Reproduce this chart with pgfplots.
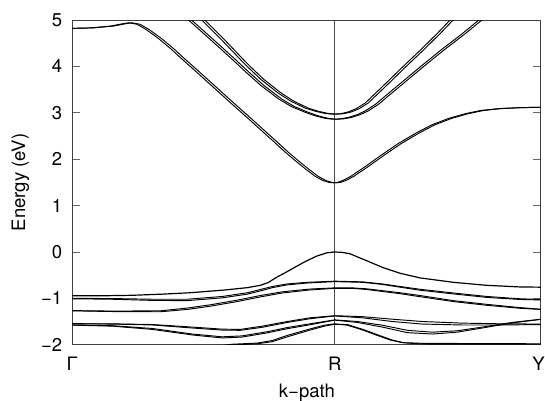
\documentclass[border=0pt]{standalone}
\usepackage{fontspec}
\setmainfont{TeX Gyre Heros}
\usepackage{pgfplots}
\pgfplotsset{compat=1.18}
\begin{document}
\begin{tikzpicture}
\begin{axis}[
  name=ax,
  scale only axis,
  width=468.4bp, height=324.7bp,
  xmin=0, xmax=468.4, ymin=-2, ymax=5,
  axis line style={draw=black!75, line width=0.8pt},
  xtick={0,262.4,468.4},
  xticklabels={Γ,R,\makebox[8bp][r]{Y}},
  x tick style={draw=none},
  ytick={-2,-1,0,1,2,3,4,5},
  yticklabels={−2,−1,0,1,2,3,4,5},
  tick align=inside,
  tick pos=both,
  major tick length=7.7bp,
  y tick style={draw=black!60, line width=0.6pt},
  tick label style={font=\fontsize{18.5bp}{22bp}\selectfont},
  xticklabel style={inner sep=0pt, anchor=north, yshift=-12bp},
  yticklabel style={inner sep=0pt, anchor=east, xshift=-10bp},
  xlabel={k−path},
  ylabel={Energy (eV)},
  label style={font=\fontsize{18.5bp}{22bp}\selectfont},
  xlabel style={at={(axis description cs:0.501,-0.1626)}, anchor=base},
  ylabel style={at={(axis description cs:-0.1106,0.5)}, anchor=center},
  clip=true,
  band/.style={black, line width=0.95pt, line join=round, mark=none, solid},
]
\draw[black!70, line width=0.5pt] (axis cs:262.4,-2) -- (axis cs:262.4,5);
% Conduction band A (pair)
\addplot[band] coordinates {(0,4.82) (18.5,4.83) (38.5,4.87) (50.5,4.92) (56.5,4.94) (64.5,4.91) (73.5,4.80) (86.2,4.60) (98.5,4.38) (108.5,4.18) (119.5,3.97) (138.5,3.60) (158.5,3.21) (176.2,2.87) (188.5,2.63) (202.9,2.35) (213.5,2.14) (226.2,1.91) (235.5,1.75) (242.9,1.63) (250.5,1.54) (256.5,1.50) (260.9,1.49) (265.5,1.50) (271.5,1.55) (278.5,1.63) (292.9,1.84) (308.5,2.08) (326.2,2.34) (343.5,2.56) (359.5,2.74) (376.5,2.88) (392.9,2.98) (408.5,3.05) (426.2,3.09) (446.5,3.11) (468.4,3.12)};
\addplot[band] coordinates {(0,4.82) (21.5,4.83) (41.5,4.87) (53.5,4.92) (59.5,4.94) (67.5,4.91) (76.5,4.80) (89.2,4.60) (101.5,4.38) (111.5,4.18) (122.5,3.97) (141.5,3.60) (161.5,3.21) (179.2,2.87) (191.5,2.63) (205.9,2.35) (216.5,2.14) (229.2,1.91) (238.5,1.75) (245.9,1.63) (253.5,1.54) (259.5,1.50) (263.9,1.49) (268.5,1.50) (274.5,1.55) (281.5,1.63) (295.9,1.84) (311.5,2.08) (329.2,2.34) (346.5,2.56) (362.5,2.74) (379.5,2.88) (395.9,2.98) (411.5,3.05) (429.2,3.09) (449.5,3.11) (468.4,3.12)};
% Conduction band B (pair)
\addplot[band] coordinates {(110.5,5.12) (116.2,5.0) (138.5,4.57) (158.5,4.18) (172.9,3.89) (188.5,3.59) (206.2,3.30) (218.5,3.14) (232.9,3.01) (243.5,2.93) (252.9,2.88) (260.9,2.86) (268.5,2.87) (276.2,2.90) (285,2.96) (292.9,3.04) (303,3.18) (312.9,3.36) (328.5,3.64) (348.5,4.00) (368.5,4.35) (388.5,4.68) (405.5,4.98) (412.5,5.12)};
\addplot[band] coordinates {(113.5,5.12) (119.2,5.0) (141.5,4.57) (161.5,4.18) (175.9,3.89) (191.5,3.59) (209.2,3.30) (221.5,3.14) (235.9,3.01) (246.5,2.93) (255.9,2.88) (263.9,2.86) (271.5,2.87) (279.2,2.90) (288,2.96) (295.9,3.04) (306,3.18) (315.9,3.36) (331.5,3.64) (351.5,4.00) (371.5,4.35) (391.5,4.68) (408.5,4.98) (415.5,5.12)};
% Conduction band C (pair)
\addplot[band] coordinates {(123.5,5.12) (129.5,5.0) (148.5,4.59) (172.9,4.04) (188.5,3.72) (206.2,3.42) (218.5,3.25) (232.9,3.10) (243.5,3.03) (252.9,2.985) (260.9,2.97) (268.5,2.98) (276.2,3.02) (284,3.09) (292.9,3.21) (308.5,3.53) (329.5,3.97) (348.5,4.36) (364.5,4.70) (377.9,5.0) (384.5,5.12)};
\addplot[band] coordinates {(126.5,5.12) (132.5,5.0) (151.5,4.59) (175.9,4.04) (191.5,3.72) (209.2,3.42) (221.5,3.25) (235.9,3.10) (246.5,3.03) (255.9,2.985) (263.9,2.97) (271.5,2.98) (279.2,3.02) (287,3.09) (295.9,3.21) (311.5,3.53) (332.5,3.97) (351.5,4.36) (367.5,4.70) (380.9,5.0) (387.5,5.12)};
% Valence band 1
\addplot[band, line width=1.2pt] coordinates {(0,-0.945) (30,-0.945) (60,-0.935) (90,-0.91) (117.7,-0.88) (152.7,-0.82) (175,-0.77) (188,-0.72) (196,-0.66) (204,-0.55) (212.7,-0.45) (221,-0.35) (232.7,-0.21) (244.4,-0.09) (254.4,-0.02) (262.4,0) (270,-0.01) (277.7,-0.04) (294.4,-0.19) (311,-0.34) (327.7,-0.46) (347.7,-0.56) (381,-0.655) (414.4,-0.72) (447.7,-0.755) (468.4,-0.76)};
% Valence band 2 (pair)
\addplot[band] coordinates {(0,-1.0) (40,-1.005) (80,-1.02) (115,-1.02) (150,-0.96) (175,-0.88) (190,-0.80) (200,-0.745) (215,-0.69) (235,-0.655) (262.4,-0.63) (290,-0.645) (310,-0.69) (327.7,-0.745) (347.7,-0.805) (381,-0.885) (414.4,-0.96) (447.7,-1.01) (468.4,-1.025)};
\addplot[band] coordinates {(0,-1.01) (40,-1.02) (80,-1.045) (115,-1.05) (150,-0.99) (175,-0.91) (190,-0.83) (200,-0.77) (215,-0.71) (235,-0.67) (262.4,-0.64) (290,-0.655) (310,-0.70) (327.7,-0.76) (347.7,-0.825) (381,-0.905) (414.4,-0.98) (447.7,-1.025) (468.4,-1.035)};
% Valence band 3 (pair)
\addplot[band] coordinates {(0,-1.265) (40,-1.275) (88,-1.27) (115,-1.21) (138,-1.14) (165,-1.04) (188,-0.94) (210,-0.86) (237.7,-0.80) (262.4,-0.775) (280,-0.775) (294.4,-0.795) (327.7,-0.88) (347.7,-0.94) (381,-1.05) (414.4,-1.13) (447.7,-1.20) (468.4,-1.235)};
\addplot[band] coordinates {(0,-1.27) (40,-1.285) (88,-1.29) (115,-1.24) (138,-1.17) (165,-1.07) (188,-0.97) (210,-0.885) (237.7,-0.82) (262.4,-0.785) (280,-0.785) (294.4,-0.81) (327.7,-0.90) (347.7,-0.965) (381,-1.07) (414.4,-1.15) (447.7,-1.215) (468.4,-1.24)};
% Lower valence bands
\addplot[band] coordinates {(0,-1.547) (40,-1.55) (80,-1.565) (120,-1.62) (150,-1.665) (168,-1.67) (190,-1.60) (215,-1.50) (237.7,-1.42) (262.4,-1.375) (290,-1.395) (320,-1.45) (350,-1.50) (390,-1.535) (430,-1.55) (468.4,-1.555)};
\addplot[band] coordinates {(0,-1.55) (40,-1.555) (80,-1.575) (120,-1.64) (150,-1.685) (168,-1.69) (190,-1.625) (215,-1.52) (237.7,-1.44) (262.4,-1.38) (290,-1.42) (320,-1.50) (350,-1.555) (390,-1.575) (430,-1.575) (468.4,-1.565)};
\addplot[band] coordinates {(0,-1.575) (40,-1.59) (80,-1.65) (120,-1.77) (150,-1.83) (170,-1.81) (195,-1.72) (215,-1.63) (237.7,-1.55) (262.4,-1.465) (285,-1.50) (310,-1.58) (335,-1.69) (360,-1.73) (385,-1.70) (410,-1.62) (440,-1.52) (468.4,-1.45)};
\addplot[band] coordinates {(0,-1.578) (40,-1.60) (80,-1.67) (120,-1.79) (150,-1.855) (170,-1.835) (195,-1.745) (215,-1.655) (237.7,-1.57) (262.4,-1.47) (285,-1.52) (310,-1.62) (335,-1.74) (360,-1.77) (385,-1.73) (410,-1.64) (440,-1.53) (468.4,-1.455)};
\addplot[band] coordinates {(145,-2.03) (160,-1.99) (185,-1.965) (200,-1.91) (215,-1.80) (237.7,-1.66) (252,-1.58) (262.4,-1.55) (275,-1.58) (290,-1.68) (305,-1.80) (318,-1.90) (330,-1.955) (350,-1.97) (400,-1.975) (468.4,-1.98)};
\addplot[band] coordinates {(145,-2.05) (160,-2.005) (185,-1.98) (200,-1.935) (215,-1.83) (237.7,-1.685) (252,-1.60) (262.4,-1.56) (275,-1.565) (292,-1.68) (307,-1.80) (320,-1.90) (332,-1.96) (350,-1.985) (400,-1.99) (468.4,-1.99)};
\end{axis}
\pgfresetboundingbox
\path[use as bounding box] ([shift={(-72.3bp,-56.3bp)}]ax.south west) rectangle ([shift={(4.3bp,20bp)}]ax.north east);
\end{tikzpicture}
\end{document}
